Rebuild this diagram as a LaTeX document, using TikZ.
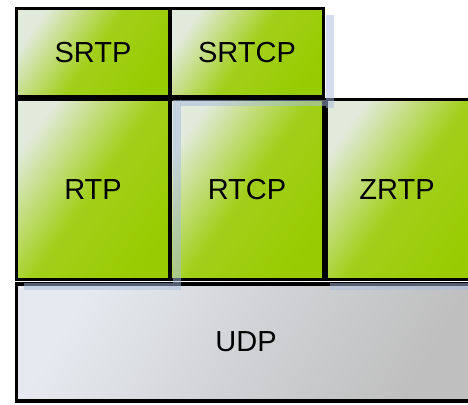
\documentclass[tikz,border=0pt]{standalone}
\usepackage{fontspec}
\setmainfont{Liberation Sans}
\definecolor{lgreen}{HTML}{99CC00}
\definecolor{lwhite}{HTML}{E2EADC}
\definecolor{gtop}{HTML}{E6EAF0}
\definecolor{gbot}{HTML}{BFBFBF}
\definecolor{selblue}{HTML}{A8BCE0}
\begin{document}
\begin{tikzpicture}[x=1pt,y=-1pt,
  layer/.style={draw=black, line width=3.5pt, rectangle, inner sep=0pt,
    font=\fontsize{29}{31}\selectfont, text=black},
  greenbox/.style={layer, top color=lwhite, bottom color=lgreen, middle color=lgreen!88!lwhite, shading angle=55},
  graybox/.style={layer, top color=gtop, bottom color=gbot, middle color=gtop!45!gbot, shading angle=60},
  selmark/.style={fill=selblue, opacity=0.5, draw=none}]
\useasboundingbox (0,0) rectangle (468,404);
\clip (0,0) rectangle (468,404);
\node[graybox, minimum width=460pt, minimum height=117pt] (udp) at (246.5,342.5) {};
\node at (246,342) [font=\fontsize{29}{31}\selectfont] {UDP};
\node[greenbox, minimum width=153pt, minimum height=88pt] (srtp) at (93,52.5) {SRTP};
\node[greenbox, minimum width=153pt, minimum height=88pt] (srtcp) at (247,52.5) {SRTCP};
\node[greenbox, minimum width=153pt, minimum height=180pt] (rtp) at (93,189.5) {RTP};
\node[greenbox, minimum width=153pt, minimum height=180pt] (rtcp) at (247,189.5) {RTCP};
\node[greenbox, minimum width=160pt, minimum height=180pt, anchor=west] (zrtp) at (324.5,189.5) {};
\node at (397,189.5) [font=\fontsize{29}{31}\selectfont] (zrtpl) {ZRTP};
% selection artefacts
\fill[selmark] (326,15) rectangle (334,108);
\fill[selmark] (180,100) rectangle (326,106);
\fill[selmark] (173,100) rectangle (181,290);
\fill[selmark] (24,283) rectangle (173,290);
\fill[selmark] (330,283) rectangle (468,290);
\end{tikzpicture}
\end{document}
